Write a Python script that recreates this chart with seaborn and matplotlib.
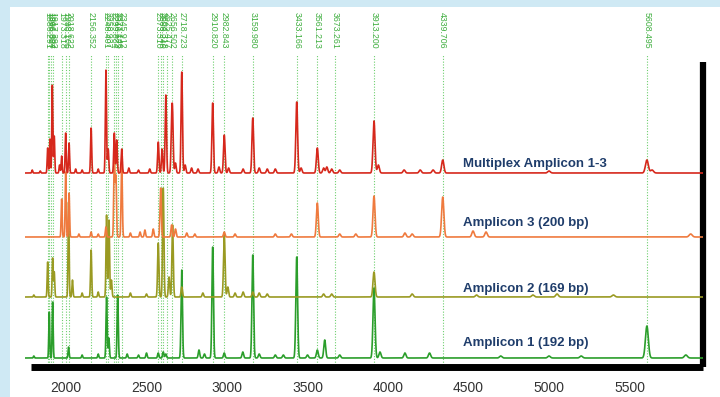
import numpy as np
import pandas as pd
import matplotlib
matplotlib.use("Agg")
import matplotlib.pyplot as plt
import matplotlib.transforms as mtransforms
from matplotlib.patches import Rectangle
from matplotlib.lines import Line2D
import seaborn as sns

# ---- annotated reference masses (m/z) shown as dotted guide lines ----
marker_mz = [1886.291, 1896.327, 1906.804, 1917.392, 1973.318, 1998.106, 2018.622,
             2156.352, 2248.401, 2258.937, 2299.884, 2310.573, 2321.146, 2345.912,
             2573.310, 2588.246, 2604.318, 2625.477, 2656.502, 2718.723, 2910.820,
             2982.843, 3159.980, 3433.166, 3561.213, 3673.261, 3913.200, 4339.706,
             5608.495]
marker_labels = [f"{v:.3f}" for v in marker_mz]

tick_values = [2000, 2500, 3000, 3500, 4000, 4500, 5000, 5500]

# ---- spectra: peak centres (m/z) and heights (relative units) ----
amp1_mz = [1896, 1917, 2016, 2252, 2266, 2321, 2573, 2604, 2719, 2911, 2983, 3160,
           3433, 3561, 3607, 3913, 5608,
           1800, 2100, 2200, 2380, 2450, 2500, 2620, 2826, 2860, 3098, 3200, 3300,
           3350, 3500, 3700, 3950, 4105, 4258, 4700, 5000, 5200, 5850]
amp1_int = [46, 56, 11, 61, 20, 63, 5, 6, 88, 111, 5, 103,
            101, 8, 18, 70, 32,
            2, 3, 4, 4, 3, 5, 4, 8, 4, 6, 4, 3,
            3, 3, 3, 6, 5, 5, 2, 2, 2, 3]

amp2_mz = [1886, 1917, 1927, 2016, 2040, 2156, 2252, 2267, 2282, 2573, 2604, 2640,
           2662, 2719, 2983, 3005, 3160, 3913,
           1800, 2100, 2200, 2400, 2500, 2850, 3050, 3100, 3200, 3250, 3600, 3650,
           4150, 4550, 4900, 5050, 5400]
amp2_int = [35, 39, 25, 95, 17, 47, 82, 77, 17, 54, 109, 20,
            72, 10, 63, 10, 5, 25,
            2, 4, 5, 4, 3, 4, 4, 5, 4, 3, 3, 3,
            3, 2, 2, 3, 2]

amp3_mz = [1973, 1998, 2019, 2156, 2248, 2300, 2310, 2346, 2490, 2542, 2588, 2656,
           2680, 2983, 3561, 3913, 4340,
           2080, 2200, 2400, 2460, 2750, 2800, 3050, 3300, 3400, 3700, 3800, 4105,
           4150, 4528, 4609, 5880]
amp3_int = [38, 65, 44, 5, 10, 80, 60, 75, 7, 8, 49, 12,
            8, 5, 34, 41, 40,
            3, 3, 4, 5, 4, 3, 3, 3, 3, 3, 3, 4,
            3, 6, 5, 3]

mplx_mz = [1886, 1900, 1915, 1927, 1973, 1998, 2019, 2156, 2248, 2262, 2300, 2315,
           2346, 2573, 2597, 2620, 2656, 2662, 2719, 2911, 2983, 3160, 3433, 3561,
           3913, 4340, 5608,
           1790, 1840, 1960, 2060, 2100, 2200, 2390, 2450, 2520, 2680, 2740, 2780,
           2820, 2950, 3010, 3100, 3200, 3250, 3300, 3460, 3600, 3620, 3650, 3700,
           3940, 4100, 4200, 4280, 5000, 5640]
mplx_int = [25, 34, 88, 37, 17, 40, 30, 45, 103, 24, 40, 33,
            24, 31, 24, 78, 39, 50, 101, 70, 38, 55, 71, 25,
            52, 13, 13,
            3, 2, 8, 4, 3, 4, 5, 3, 4, 10, 8, 5,
            4, 6, 5, 4, 5, 4, 4, 5, 5, 6, 4, 3,
            8, 3, 3, 3, 2, 3]

trace_names = ["Amplicon 1 (192 bp)", "Amplicon 2 (169 bp)",
               "Amplicon 3 (200 bp)", "Multiplex Amplicon 1-3"]
trace_offsets = [9, 70, 130, 194]
trace_colors = ["#2b9e2b", "#9a9a22", "#ef7a3e", "#d6281c"]
trace_peaks = [(amp1_mz, amp1_int), (amp2_mz, amp2_int),
               (amp3_mz, amp3_int), (mplx_mz, mplx_int)]

X_MIN, X_MAX = 1745.3, 5956.5
mz = np.arange(X_MIN, X_MAX, 0.5)


def spectrum(centres, heights, offset):
    sig = np.full_like(mz, float(offset))
    for c, h in zip(centres, heights):
        w = 0.0016 * c
        sig += h * np.exp(-0.5 * ((mz - c) / w) ** 2)
    return sig


frames = []
for name, off, (pk, it) in zip(trace_names, trace_offsets, trace_peaks):
    frames.append(pd.DataFrame({"mz": mz, "signal": spectrum(pk, it, off), "trace": name}))
df = pd.concat(frames, ignore_index=True)

sns.set_theme(style="white")
plt.rcParams["font.family"] = ["Liberation Sans", "DejaVu Sans"]

W, H = 720, 397
fig = plt.figure(figsize=(W / 100, H / 100), dpi=100)
fig.patch.set_facecolor("#cfe9f4")
fig.add_artist(Rectangle((10 / W, 0), (W - 10) / W, (H - 7) / H,
                         transform=fig.transFigure, facecolor="white",
                         edgecolor="none", zorder=0))

ax = fig.add_axes([25 / W, (H - 367) / H, 678 / W, 305 / H])
ax.set_facecolor("none")

for name, col in zip(trace_names, trace_colors):
    sns.lineplot(data=df[df["trace"] == name], x="mz", y="signal", color=col,
                 linewidth=1.2, estimator=None, sort=False, ax=ax, zorder=3)

ax.set_xlim(X_MIN, X_MAX)
ax.set_ylim(0, 305)
ax.set_xlabel("")
ax.set_ylabel("")
ax.set_yticks([])
ax.set_xticks(tick_values)
ax.set_xticklabels([str(t) for t in tick_values])
ax.tick_params(axis="x", direction="in", length=3, width=1, color="#aaaaaa",
               pad=10, labelsize=10, labelcolor="#333333")

for s in ["top", "left"]:
    ax.spines[s].set_visible(False)
ax.spines["bottom"].set_linewidth(5)
ax.spines["bottom"].set_color("black")
ax.spines["bottom"].set_capstyle("butt")
ax.spines["bottom"].set_bounds(1782.6, X_MAX)
ax.spines["right"].set_linewidth(4.5)
ax.spines["right"].set_color("black")
ax.spines["right"].set_capstyle("butt")

# dotted guide lines with rotated mass labels above the plot
blend = mtransforms.blended_transform_factory(ax.transData, fig.transFigure)
y_top = 1 - 55 / H
y_bot = 1 - 365 / H
for v, lab in zip(marker_mz, marker_labels):
    ax.add_line(Line2D([v, v], [y_bot, y_top], transform=blend, color="#6fcf6f",
                       linestyle=(0, (1, 1.5)), linewidth=0.8, clip_on=False, zorder=1))
    ax.text(v, 1 - 12 / H, lab, transform=blend, rotation=270, ha="center", va="top",
            fontsize=6.3, color="#3fae3f", clip_on=False)

# trace captions
caption_y = [24, 78, 144, 203]
for name, yy in zip(trace_names, caption_y):
    ax.text(4466, yy, name, ha="left", va="center", fontsize=9.5, fontweight="bold",
            color="#1f3d6b", zorder=4)

fig.savefig("out.png", dpi=100)
